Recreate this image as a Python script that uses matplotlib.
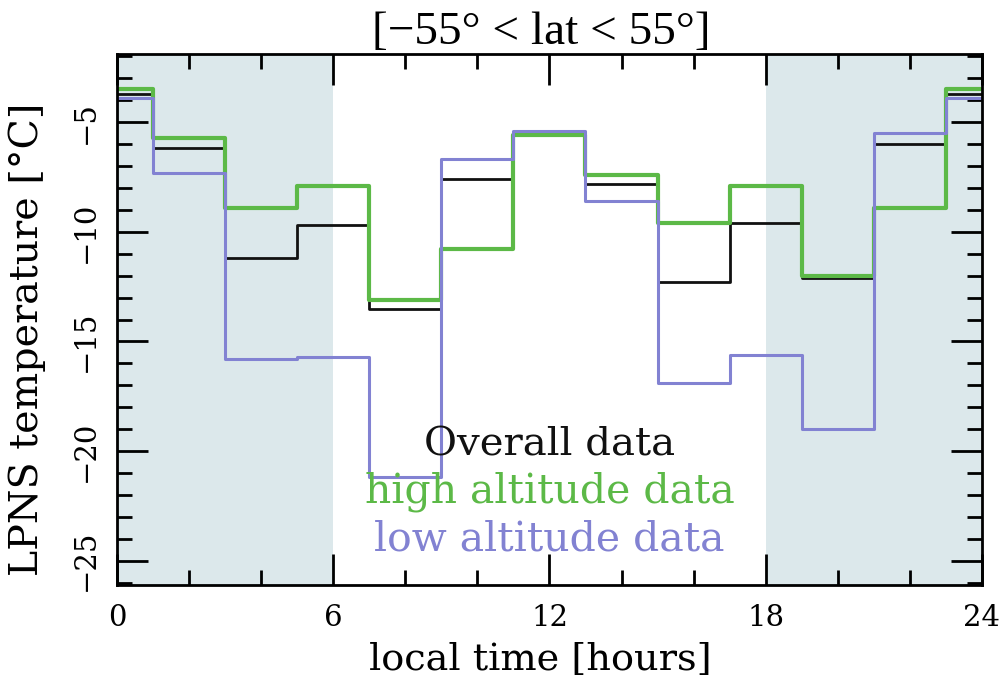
import numpy as np
import matplotlib
matplotlib.use("Agg")
import matplotlib.pyplot as plt
from matplotlib.ticker import MultipleLocator

# local time bin centres (2-hour bins, 0 and 24 are the same bin)
hours = [0, 2, 4, 6, 8, 10, 12, 14, 16, 18, 20, 22, 24]

# LPNS temperature per bin [deg C]
overall = [-3.7, -6.2, -11.2, -9.7, -13.5, -7.6, -5.5, -7.8, -12.3, -9.6, -12.1, -6.0, -3.7]
high_alt = [-3.5, -5.7, -8.9, -7.9, -13.1, -10.8, -5.6, -7.4, -9.6, -7.9, -12.0, -8.9, -3.5]
low_alt = [-3.9, -7.3, -15.8, -15.7, -21.2, -6.7, -5.4, -8.6, -16.9, -15.6, -19.0, -5.5, -3.9]

night_spans = [(0, 6), (18, 24)]

x_ticks = [0, 6, 12, 18, 24]
y_ticks = [-25, -20, -15, -10, -5]

black = "#111111"
green = "#5cb947"
blue = "#8282d2"
shade = "#dce8eb"

plt.rcParams["font.family"] = ["DejaVu Serif"]

fig = plt.figure(figsize=(10.04, 6.77), dpi=100)
ax = fig.add_axes([0.1165, 0.136, 0.8615, 0.784])

# night-time shading
for a, b in night_spans:
    ax.axvspan(a, b, color=shade, lw=0, zorder=0)

ax.step(hours, overall, where="mid", color=black, lw=2.0, zorder=3)
ax.step(hours, high_alt, where="mid", color=green, lw=3.0, zorder=4)
ax.step(hours, low_alt, where="mid", color=blue, lw=2.2, zorder=5)

ax.set_xlim(0, 24)
ax.set_ylim(-26.1, -1.9)

ax.set_xticks(x_ticks)
ax.set_xticklabels([str(t) for t in x_ticks], fontsize=21)
ax.set_yticks(y_ticks)
ax.set_yticklabels([str(t).replace("-", "\u2212") for t in y_ticks], fontsize=21,
                   rotation=90, va="center")
ax.xaxis.set_minor_locator(MultipleLocator(2))
ax.yaxis.set_minor_locator(MultipleLocator(1))

ax.tick_params(which="both", direction="in", top=True, right=True, width=2, colors="black")
ax.tick_params(which="major", length=22)
ax.tick_params(which="minor", length=11)
ax.tick_params(axis="x", which="major", pad=14)
ax.tick_params(axis="y", which="major", pad=12)

for s in ax.spines.values():
    s.set_linewidth(2)
    s.set_zorder(6)

ax.set_xlabel("local time [hours]", fontsize=27.5)
ax.xaxis.set_label_coords(0.49, -0.108)
ax.set_ylabel("LPNS temperature [°C]", fontsize=28.5)
ax.yaxis.set_label_coords(-0.082, 0.463)
ax.set_title("[\u221255° < lat < 55°]", family="Liberation Serif", fontsize=34, pad=4, x=0.49)

# coloured text legend
ax.text(12.0, -20.18, "Overall data", color=black, fontsize=29, ha="center", va="baseline", zorder=7)
ax.text(12.0, -22.32, "high altitude data", color=green, fontsize=29.5, ha="center", va="baseline", zorder=7)
ax.text(12.0, -24.51, "low altitude data", color=blue, fontsize=29.5, ha="center", va="baseline", zorder=7)

fig.savefig("out.png", dpi=100)
